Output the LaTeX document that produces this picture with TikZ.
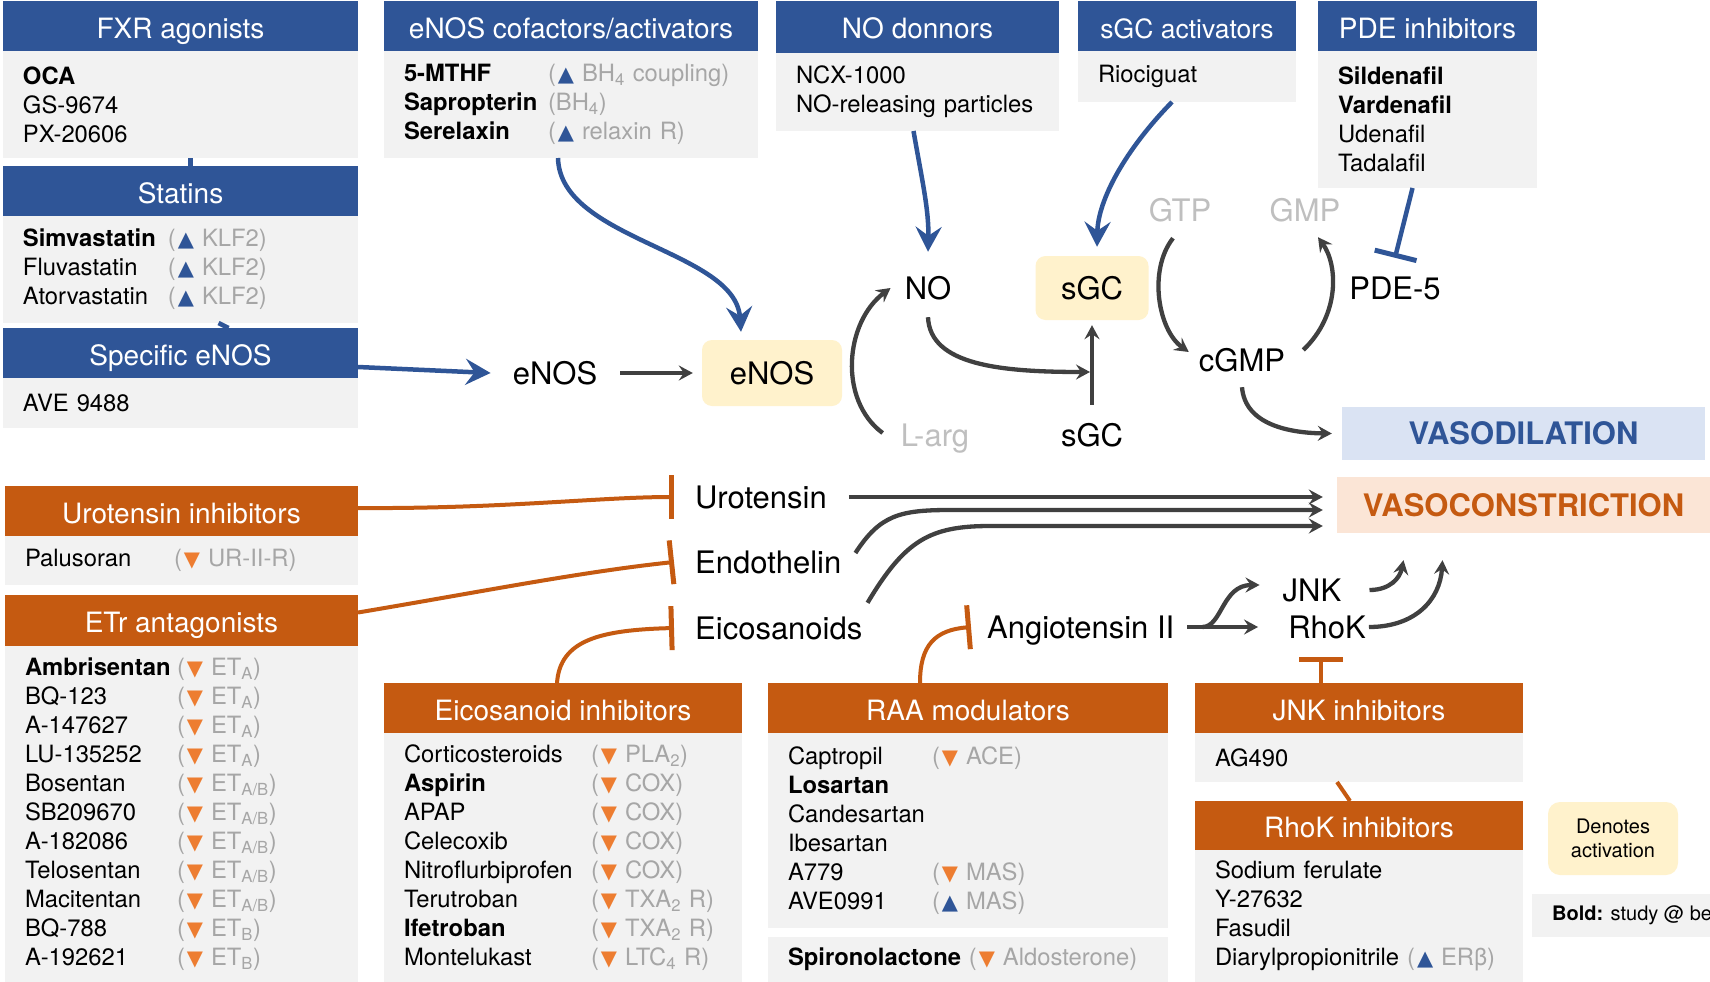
\documentclass[tikz,border=0pt]{standalone}
\usepackage{fontspec}
\setmainfont{TeX Gyre Heros}
\newfontfamily\symf{DejaVu Sans}
\usetikzlibrary{arrows.meta, positioning, calc}

\definecolor{hdrblue}{HTML}{2F5597}
\definecolor{hdrorange}{HTML}{C55A11}
\definecolor{bodygray}{HTML}{F2F2F2}
\definecolor{actyellow}{HTML}{FFF2CC}
\definecolor{dilblue}{HTML}{DAE3F3}
\definecolor{conorange}{HTML}{FBE5D6}
\definecolor{notegray}{HTML}{A6A6A6}
\definecolor{faintgray}{HTML}{BFBFBF}
\definecolor{arrgray}{HTML}{404040}
\definecolor{triorange}{HTML}{ED7D31}

\newcommand\hdrfont{\fontsize{28}{32}\selectfont}
\newcommand\bodyfont{\fontsize{23.8}{29}\selectfont}
\newcommand\lblfont{\fontsize{31}{36}\selectfont}
\newcommand\legfont{\fontsize{20}{23.5}\selectfont}
\newcommand\up{{\symf\fontsize{21}{21}\selectfont\textcolor{hdrblue}{▲}}}
\newcommand\dn{{\symf\fontsize{21}{21}\selectfont\textcolor{triorange}{▼}}}
\newcommand\note[2]{\textcolor{notegray}{(}\kern2pt#1\ \textcolor{notegray}{#2)}}
\newcommand\et[1]{ET\textsubscript{#1}}
\newcommand\cell[2]{\makebox[#1][l]{#2}}

\begin{document}
\begin{tikzpicture}[
    x=1pt, y=-1pt,
    hdr/.style={fill=#1, text=white, font=\hdrfont, minimum height=50pt, inner sep=0pt, outer sep=0pt, text height=24pt, text depth=0pt, anchor=north west},
    body/.style={fill=bodygray, font=\bodyfont, align=left, inner xsep=20pt, inner ysep=0pt, outer sep=0pt, text width=#1},
    lbl/.style={font=\lblfont, inner sep=0pt, text height=22pt, text depth=0pt},
    faint/.style={lbl, text=faintgray},
    actbox/.style={lbl, fill=actyellow, rounded corners=10pt},
    outbox/.style={fill=#1, font=\lblfont\bfseries, inner sep=0pt, text height=22pt, text depth=0pt},
    darr/.style={arrgray, line width=4.3pt, -{Stealth[length=14pt, width=15pt, inset=5pt]}},
    barr/.style={hdrblue, line width=4.5pt, -{Stealth[length=25pt, width=26pt, inset=9pt]}},
    bbar/.style={hdrblue, line width=4.5pt, -{Bar[width=43pt, line width=5pt]}},
    obar/.style={hdrorange, line width=4pt, -{Bar[width=44pt, line width=5pt]}},
    oline/.style={hdrorange, line width=4pt},
    bline/.style={hdrblue, line width=4.5pt}
  ]
    \fill[white] (0,0) rectangle (1710,982);
    \useasboundingbox (0,0) rectangle (1710,982);

    % Activators (top)
    \node[hdr=hdrblue, minimum width=355pt] (fxrH) at (3,1) {FXR agonists};
    \node[body=315pt, minimum height=107pt, below=0pt of fxrH] (fxrB) {\textbf{OCA}\\GS-9674\\PX-20606};
    \node[hdr=hdrblue, minimum width=355pt] (statH) at (3,166) {Statins};
    \node[body=315pt, minimum height=107pt, below=0pt of statH] (statB) {\cell{145pt}{\textbf{Simvastatin}}\note{\up}{KLF2}\\
      \cell{145pt}{Fluvastatin}\note{\up}{KLF2}\\
      \cell{145pt}{Atorvastatin}\note{\up}{KLF2}};
    \node[hdr=hdrblue, minimum width=355pt] (specH) at (3,328) {Specific eNOS};
    \node[body=315pt, minimum height=50pt, below=0pt of specH] (specB) {AVE 9488};
    \node[hdr=hdrblue, minimum width=374pt] (cofH) at (384,1) {eNOS cofactors/activators};
    \node[body=334pt, minimum height=107pt, below=0pt of cofH] (cofB) {\cell{144pt}{\textbf{5-MTHF}}\note{\up}{BH\textsubscript{4} coupling}\\
      \cell{144pt}{\textbf{Sapropterin}}\textcolor{notegray}{(BH\textsubscript{4})}\\
      \cell{144pt}{\textbf{Serelaxin}}\note{\up}{relaxin R}};
    \node[hdr=hdrblue, minimum width=283pt, minimum height=52pt] (donH) at (776,1) {NO donnors};
    \node[body=243pt, minimum height=78pt, below=0pt of donH] (donB) {NCX-1000\\NO-releasing particles};
    \node[hdr=hdrblue, minimum width=218pt, font=\fontsize{26.5}{30}\selectfont] (sgcaH) at (1078,1) {sGC activators};
    \node[body=178pt, minimum height=51pt, below=0pt of sgcaH] (sgcaB) {Riociguat};
    \node[hdr=hdrblue, minimum width=219pt] (pdeH) at (1318,1) {PDE inhibitors};
    \node[body=179pt, minimum height=137pt, below=0pt of pdeH] (pdeB) {\textbf{Sildenafil}\\\textbf{Vardenafil}\\Udenafil\\Tadalafil};

    % NO pathway
    \node[lbl] (enosT) at (555,373) {eNOS};
    \node[actbox, minimum width=140pt, minimum height=66pt] (enosB) at (772,373) {eNOS};
    \node[lbl] (no) at (928,288) {NO};
    \node[actbox, minimum width=113pt, minimum height=64pt] (sgcB) at (1092,288) {sGC};
    \node[faint] (larg) at (935,435) {L-arg};
    \node[lbl] (sgc2) at (1092,435) {sGC};
    \node[faint] (gtp) at (1180,210) {GTP};
    \node[faint] (gmp) at (1305,210) {GMP};
    \node[lbl] (cgmp) at (1242,360) {cGMP};
    \node[lbl] (pde) at (1395,288) {PDE-5};
    \node[outbox=dilblue, text=hdrblue, minimum width=363pt, minimum height=53pt] (vasoD) at (1523.5,433.5) {VASODILATION};
    \node[outbox=conorange, text=hdrorange, minimum width=373pt, minimum height=56pt] (vasoC) at (1523.5,505) {VASOCONSTRICTION};

    % Constrictors
    \node[lbl, anchor=west] (uro) at (695,497) {Urotensin};
    \node[lbl, anchor=west] (endo) at (695,562) {Endothelin};
    \node[lbl, anchor=west] (eico) at (695,628) {Eicosanoids};
    \node[lbl, anchor=west] (ang) at (987,627) {Angiotensin II};
    \node[lbl] (jnk) at (1312,590) {JNK};
    \node[lbl] (rhok) at (1327,627) {RhoK};

    % Inhibitors (bottom)
    \node[hdr=hdrorange, minimum width=353pt] (uroH) at (5,486) {Urotensin inhibitors};
    \node[body=313pt, minimum height=49pt, below=0pt of uroH] (uroB) {\cell{149pt}{Palusoran}\note{\dn}{UR-II-R}};
    \node[hdr=hdrorange, minimum width=353pt, minimum height=51pt] (etrH) at (5,595) {ETr antagonists};
    \node[body=313pt, minimum height=336pt, below=0pt of etrH] (etrB) {\cell{152pt}{\textbf{Ambrisentan}}\note{\dn}{\et{A}}\\
      \cell{152pt}{BQ-123}\note{\dn}{\et{A}}\\
      \cell{152pt}{A-147627}\note{\dn}{\et{A}}\\
      \cell{152pt}{LU-135252}\note{\dn}{\et{A}}\\
      \cell{152pt}{Bosentan}\note{\dn}{\et{A/B}}\\
      \cell{152pt}{SB209670}\note{\dn}{\et{A/B}}\\
      \cell{152pt}{A-182086}\note{\dn}{\et{A/B}}\\
      \cell{152pt}{Telosentan}\note{\dn}{\et{A/B}}\\
      \cell{152pt}{Macitentan}\note{\dn}{\et{A/B}}\\
      \cell{152pt}{BQ-788}\note{\dn}{\et{B}}\\
      \cell{152pt}{A-192621}\note{\dn}{\et{B}}};
    \node[hdr=hdrorange, minimum width=358pt] (eicH) at (384,683) {Eicosanoid inhibitors};
    \node[body=318pt, minimum height=249pt, below=0pt of eicH] (eicB) {\cell{187pt}{Corticosteroids}\note{\dn}{PLA\textsubscript{2}}\\
      \cell{187pt}{\textbf{Aspirin}}\note{\dn}{COX}\\
      \cell{187pt}{APAP}\note{\dn}{COX}\\
      \cell{187pt}{Celecoxib}\note{\dn}{COX}\\
      \cell{187pt}{Nitroflurbiprofen}\note{\dn}{COX}\\
      \cell{187pt}{Terutroban}\note{\dn}{TXA\textsubscript{2} R}\\
      \cell{187pt}{\textbf{Ifetroban}}\note{\dn}{TXA\textsubscript{2} R}\\
      \cell{187pt}{Montelukast}\note{\dn}{LTC\textsubscript{4} R}};
    \node[hdr=hdrorange, minimum width=400pt] (raaH) at (768,683) {RAA modulators};
    \node[body=360pt, minimum height=195pt, below=0pt of raaH] (raaB) {\cell{144pt}{Captropil}\note{\dn}{ACE}\\
      \textbf{Losartan}\\Candesartan\\Ibesartan\\
      \cell{144pt}{A779}\note{\dn}{MAS}\\
      \cell{144pt}{AVE0991}\note{\up}{MAS}};
    \node[body=360pt, minimum height=45pt, below=9pt of raaB] (spiroB) {\mbox{\textbf{Spironolactone} \note{\dn}{Aldosterone}}};
    \node[hdr=hdrorange, minimum width=328pt] (jnkH) at (1195,683) {JNK inhibitors};
    \node[body=288pt, minimum height=49pt, below=0pt of jnkH] (jnkB) {AG490};
    \node[hdr=hdrorange, minimum width=328pt, minimum height=49pt] (rhoH) at (1195,801) {RhoK inhibitors};
    \node[body=288pt, minimum height=132pt, below=0pt of rhoH] (rhoB) {Sodium ferulate\\Y-27632\\Fasudil\\
      \mbox{Diarylpropionitrile \note{\up}{ERβ}}};

    % Legend
    \node[fill=actyellow, rounded corners=12pt, font=\legfont, align=center, minimum width=130pt, minimum height=73pt, inner sep=0pt] (legAct) at (1613,838.5) {Denotes\\activation};
    \begin{scope}
      \clip (0,0) rectangle (1710,982);
      \node[fill=bodygray, font=\legfont, anchor=west, minimum height=43pt, inner xsep=20pt, inner ysep=0pt] (legBold) at (1532,915.5) {\textbf{Bold:} study @ bedside};
    \end{scope}

    % Blue arrows
    \draw[bline] ([xshift=10pt]fxrB.south) -- ([xshift=10pt]statH.north);
    \draw[bline] ([xshift=38pt]statB.south) -- ([xshift=48pt]specH.north);
    \draw[barr] ([yshift=-14pt]specH.east) -- ([xshift=-22pt]enosT.west);
    \draw[barr] ([xshift=-13pt]cofB.south) .. controls (560,240) and (735,250) .. ([xshift=-31pt,yshift=8pt]enosB.north);
    \draw[barr] ([xshift=-4pt]donB.south) .. controls (922,180) and (929,210) .. ([yshift=25pt]no.north);
    \draw[barr] ([xshift=-15pt]sgcaB.south) .. controls (1125,150) and (1098,200) .. ([xshift=5pt,yshift=9pt]sgcB.north);
    \draw[bbar] ([xshift=-15pt]pdeB.south) -- ([yshift=19pt]pde.north);

    % Gray arrows
    \draw[darr, shorten <=23pt, shorten >=9pt] (enosT) -- (enosB);
    \draw[darr] ([xshift=-18pt,yshift=2pt]larg.west) .. controls (838,400) and (845,322) .. ([xshift=-14pt]no.west);
    \coordinate (junc) at ($(sgc2.north)!0.5!(sgcB.south)$);
    \draw[darr, shorten <=19pt, shorten >=5pt] (sgc2.north) -- (sgcB.south);
    \draw[darr, shorten >=2pt] ([yshift=-18pt]no.south) .. controls (930,365) and (1000,372) .. (junc);
    \draw[darr] ([xshift=-7pt,yshift=-17pt]gtp.south) .. controls (1148,270) and (1158,330) .. ([xshift=-10pt,yshift=8pt]cgmp.west);
    \draw[darr] ([xshift=18pt,yshift=10pt]cgmp.east) .. controls (1340,315) and (1338,265) .. ([xshift=13pt,yshift=-16pt]gmp.south);
    \draw[darr] ([yshift=-16pt]cgmp.south) .. controls (1245,425) and (1290,433) .. ([xshift=-10pt]vasoD.west);
    \draw[darr, shorten <=22pt, shorten >=14pt] (uro.east) -- (uro.east -| vasoC.west);
    \draw[darr] ([xshift=14pt,yshift=9pt]endo.east) .. controls (880,515) and (900,510) .. (950,510) -- ([xshift=-14pt,yshift=-5pt]vasoC.west);
    \draw[darr] ([xshift=5pt,yshift=14pt]eico.north east) .. controls (905,540) and (930,526) .. (990,526) -- ([xshift=-14pt,yshift=-21pt]vasoC.west);
    \draw[darr] ([xshift=13pt]ang.east) -- ([xshift=-30pt]rhok.west);
    \draw[darr] ([xshift=28pt]ang.east) .. controls (1222,627) and (1222,585) .. ([xshift=-23pt,yshift=5pt]jnk.west);
    \draw[darr] ([xshift=28pt]jnk.east) .. controls (1390,590) and (1400,578) .. ([xshift=-120pt,yshift=-27pt]vasoC.south);
    \draw[darr] ([xshift=3pt]rhok.east) .. controls (1415,627) and (1440,600) .. ([xshift=-81pt,yshift=-27pt]vasoC.south);

    % Orange inhibitions
    \draw[obar] ([yshift=3pt]uroH.east) .. controls (500,509) and (600,497) .. ([xshift=-21pt]uro.west);
    \draw[obar] ([yshift=8pt]etrH.east) .. controls (480,592) and (580,572) .. ([xshift=-21pt]endo.west);
    \draw[obar] ([xshift=-6pt]eicH.north) .. controls (560,640) and (600,630) .. ([xshift=-21pt]eico.west);
    \draw[obar] ([xshift=-48pt]raaH.north) .. controls (920,645) and (935,630) .. ([xshift=-16pt]ang.west);
    \draw[obar] ([xshift=-38pt]jnkH.north) -- ([xshift=-6pt,yshift=-19pt]rhok.south);
    \draw[oline] ([xshift=-22pt]jnkB.south) -- ([xshift=-9pt]rhoH.north);
  \end{tikzpicture}
\end{document}
